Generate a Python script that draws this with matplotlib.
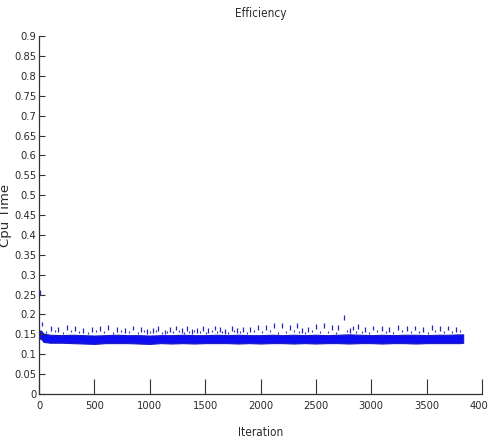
"""
Efficiency plot: cpu time per iteration (MATLAB style figure).
"""

import matplotlib
matplotlib.use("Agg")
import matplotlib.pyplot as plt
from matplotlib.ticker import MultipleLocator, FormatStrFormatter

plt.rcParams['font.family'] = ['DejaVu Sans']
plt.rcParams['font.stretch'] = 'condensed'

# core band of the cpu time series
band_iter = [0, 15, 40, 100, 200, 300, 400, 500, 600, 700, 800, 900, 1000,
             1100, 1200, 1300, 1400, 1500, 1600, 1700, 1800, 1900, 2000,
             2100, 2200, 2300, 2400, 2500, 2600, 2700, 2800, 2900, 3000,
             3100, 3200, 3300, 3400, 3500, 3600, 3700, 3800, 3830]
band_low = [0.138, 0.140, 0.131, 0.129, 0.129, 0.128, 0.127, 0.126, 0.128,
            0.128, 0.128, 0.127, 0.126, 0.128, 0.127, 0.128, 0.127, 0.128,
            0.128, 0.128, 0.127, 0.128, 0.127, 0.128, 0.128, 0.127, 0.128,
            0.127, 0.128, 0.128, 0.127, 0.128, 0.128, 0.127, 0.128, 0.128,
            0.127, 0.128, 0.128, 0.128, 0.128, 0.129]
band_high = [0.158, 0.160, 0.152, 0.149, 0.148, 0.149, 0.148, 0.147, 0.148,
             0.149, 0.148, 0.148, 0.147, 0.148, 0.148, 0.149, 0.148, 0.148,
             0.149, 0.148, 0.149, 0.148, 0.148, 0.149, 0.148, 0.149, 0.148,
             0.149, 0.148, 0.149, 0.150, 0.149, 0.148, 0.149, 0.148, 0.149,
             0.149, 0.148, 0.149, 0.149, 0.150, 0.150]

# isolated spikes above the band
spike_iter = [8, 24, 108, 174, 250, 325, 400, 476, 551, 626, 702, 777, 852,
              921, 978, 1032, 1077, 1138, 1183, 1237, 1289, 1334, 1379, 1424,
              1484, 1529, 1589, 1634, 1679, 1740, 1785, 1845, 1905, 1980,
              2047, 2125, 2191, 2266, 2327, 2372, 2432, 2498, 2573, 2649,
              2703, 2754, 2808, 2838, 2883, 2944, 3013, 3094, 3163, 3244,
              3320, 3395, 3470, 3546, 3621, 3696, 3765]
spike_val = [0.262, 0.182, 0.170, 0.168, 0.174, 0.170, 0.165, 0.168, 0.170,
             0.174, 0.168, 0.165, 0.172, 0.168, 0.163, 0.166, 0.170, 0.162,
             0.168, 0.172, 0.165, 0.170, 0.163, 0.166, 0.170, 0.165, 0.172,
             0.168, 0.163, 0.170, 0.166, 0.168, 0.169, 0.173, 0.173, 0.178,
             0.179, 0.173, 0.178, 0.165, 0.169, 0.176, 0.178, 0.173, 0.173,
             0.198, 0.165, 0.172, 0.176, 0.168, 0.172, 0.170, 0.168, 0.174,
             0.170, 0.172, 0.168, 0.174, 0.170, 0.172, 0.168]

# small bumps just above the band
bump_iter = [60, 140, 215, 290, 360, 440, 515, 590, 665, 740, 815, 890, 950,
             1005, 1060, 1110, 1160, 1210, 1265, 1310, 1355, 1400, 1455, 1505,
             1560, 1610, 1655, 1710, 1760, 1815, 1875, 1940, 2010, 2085, 2160,
             2230, 2300, 2350, 2400, 2465, 2535, 2610, 2680, 2780, 2860, 2915,
             2980, 3050, 3130, 3200, 3280, 3360, 3430, 3510, 3580, 3660, 3730,
             3800]
bump_val = [0.158, 0.160, 0.157, 0.160, 0.158, 0.156, 0.160, 0.158, 0.157,
            0.160, 0.158, 0.156, 0.160, 0.158, 0.160, 0.157, 0.159, 0.158,
            0.160, 0.157, 0.159, 0.160, 0.158, 0.157, 0.160, 0.158, 0.159,
            0.157, 0.160, 0.158, 0.157, 0.160, 0.158, 0.160, 0.157, 0.159,
            0.160, 0.158, 0.157, 0.160, 0.158, 0.159, 0.157, 0.160, 0.158,
            0.159, 0.157, 0.160, 0.158, 0.157, 0.160, 0.158, 0.159, 0.157,
            0.160, 0.158, 0.159, 0.162]

x_ticks = [0, 500, 1000, 1500, 2000, 2500, 3000, 3500, 4000]

line_color = (0.05, 0.05, 0.95)
text_color = '#2a2a2a'

fig = plt.figure(figsize=(4.89, 4.40), dpi=100)
ax = fig.add_axes([0.0798, 0.1045, 0.9059, 0.8135])

ax.fill_between(band_iter, band_low, band_high, color=line_color,
                linewidth=0.8, edgecolor=(0.1, 0.1, 0.75))
# spikes: short dashes sitting above the band
ax.vlines(spike_iter, [v - 0.012 for v in spike_val], spike_val,
          colors=(0.15, 0.15, 0.75), linewidth=0.9)
ax.vlines(bump_iter, [v - 0.005 for v in bump_val], bump_val,
          colors=(0.2, 0.2, 0.8), linewidth=0.8)

ax.set_xlim(0, 4000)
ax.set_ylim(0, 0.9)
ax.set_xticks(x_ticks)
ax.yaxis.set_major_locator(MultipleLocator(0.05))
ax.yaxis.set_major_formatter(FormatStrFormatter('%g'))

for side in ('top', 'right'):
    ax.spines[side].set_visible(False)
for side in ('left', 'bottom'):
    ax.spines[side].set_color('#333333')
    ax.spines[side].set_linewidth(0.9)

ax.tick_params(axis='x', direction='in', length=11, width=0.8,
               colors='#333333', labelcolor=text_color, labelsize=8, pad=5)
ax.tick_params(axis='y', direction='in', length=4, width=0.8,
               colors='#333333', labelcolor=text_color, labelsize=8, pad=2)

ax.set_title('Efficiency', fontsize=8.5, color=text_color, y=1.03)
ax.set_xlabel('Iteration', fontsize=8.5, color=text_color)
ax.xaxis.set_label_coords(0.5, -0.09)
ax.set_ylabel('Cpu Time', fontsize=9.5, color=text_color, stretch='normal')
ax.yaxis.set_label_coords(-0.062, 0.5)

fig.savefig('out.png', dpi=100)
